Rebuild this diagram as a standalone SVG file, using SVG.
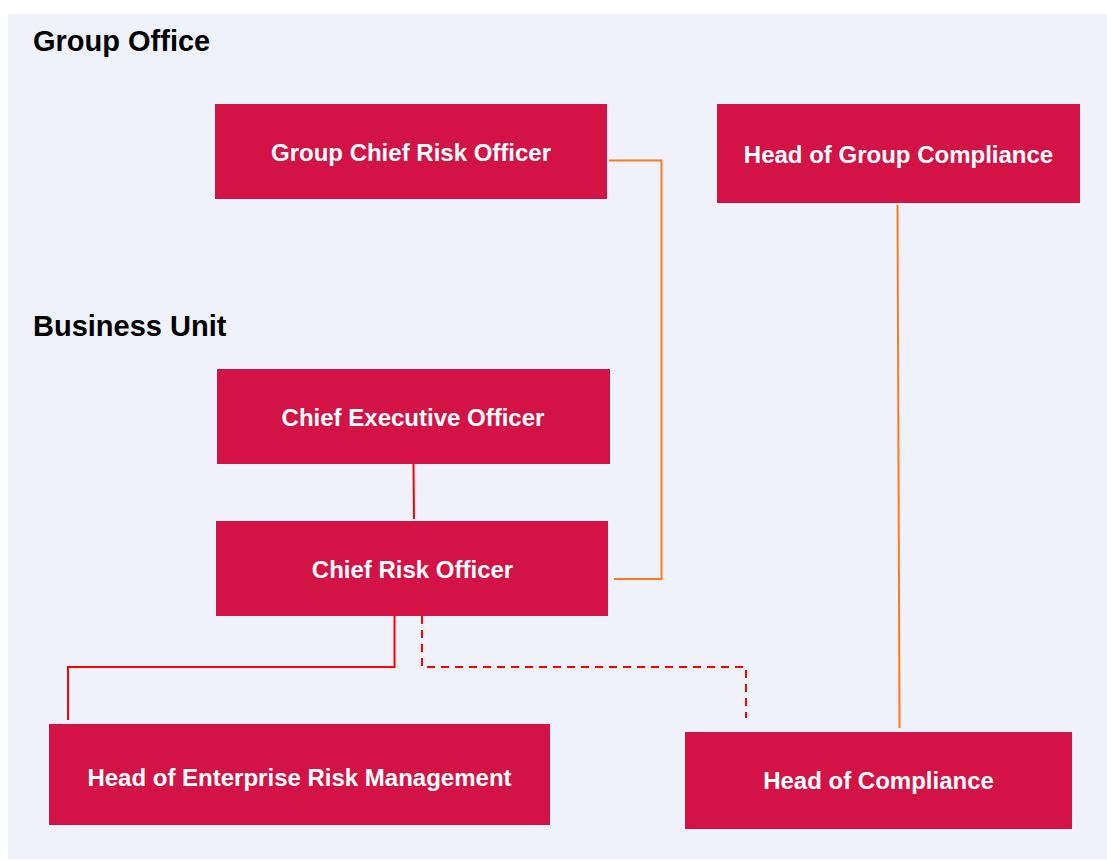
<svg xmlns="http://www.w3.org/2000/svg" width="1107" height="860" viewBox="0 0 1107 860">
  <style>
    .node rect { fill: #D31245; }
    .node text { fill: #FFFFFF; font-family: "Liberation Sans", Arial, sans-serif; font-weight: bold; font-size: 24px; text-anchor: middle; }
    .title { fill: #000000; font-family: "Liberation Sans", Arial, sans-serif; font-weight: bold; font-size: 29px; }
    .solid-red { fill: none; stroke: #FF0000; stroke-width: 2; }
    .dash-red { fill: none; stroke: #FF0000; stroke-width: 2; stroke-dasharray: 8 6; }
    .orange { fill: none; stroke: #FF7A1A; stroke-width: 2; }
  </style>

  <!-- background panel -->
  <rect x="0" y="0" width="1107" height="860" fill="#FFFFFF"/>
  <rect x="8" y="14" width="1099" height="845" fill="#EFF2FA"/>

  <!-- section headings -->
  <text class="title" x="33" y="51">Group Office</text>
  <text class="title" x="33" y="336">Business Unit</text>

  <!-- reporting lines -->
  <g id="connectors">
    <polyline class="orange" points="609,160.5 661.5,160.5 661.5,579 614,579"/>
    <line class="orange" x1="897.5" y1="205" x2="899.5" y2="728"/>
    <line class="solid-red" x1="413.5" y1="464" x2="414" y2="519"/>
    <polyline class="solid-red" points="394.5,616 394.5,667 68,667 68,720"/>
    <polyline class="dash-red" points="422,616 422,667 746,667 746,718"/>
  </g>

  <g id="group-chief-risk-officer" class="node">
    <rect x="215" y="104" width="392" height="95"/>
    <text x="411" y="161">Group Chief Risk Officer</text>
  </g>
  <g id="head-of-group-compliance" class="node">
    <rect x="717" y="104" width="363" height="99"/>
    <text x="898.5" y="163">Head of Group Compliance</text>
  </g>
  <g id="chief-executive-officer" class="node">
    <rect x="217" y="369" width="393" height="95"/>
    <text x="413" y="426">Chief Executive Officer</text>
  </g>
  <g id="chief-risk-officer" class="node">
    <rect x="216" y="521" width="392" height="95"/>
    <text x="412.5" y="578">Chief Risk Officer</text>
  </g>
  <g id="head-of-enterprise-risk-management" class="node">
    <rect x="49" y="724" width="501" height="101"/>
    <text x="299.5" y="786">Head of Enterprise Risk Management</text>
  </g>
  <g id="head-of-compliance" class="node">
    <rect x="685" y="732" width="387" height="97"/>
    <text x="878.5" y="789">Head of Compliance</text>
  </g>
</svg>
